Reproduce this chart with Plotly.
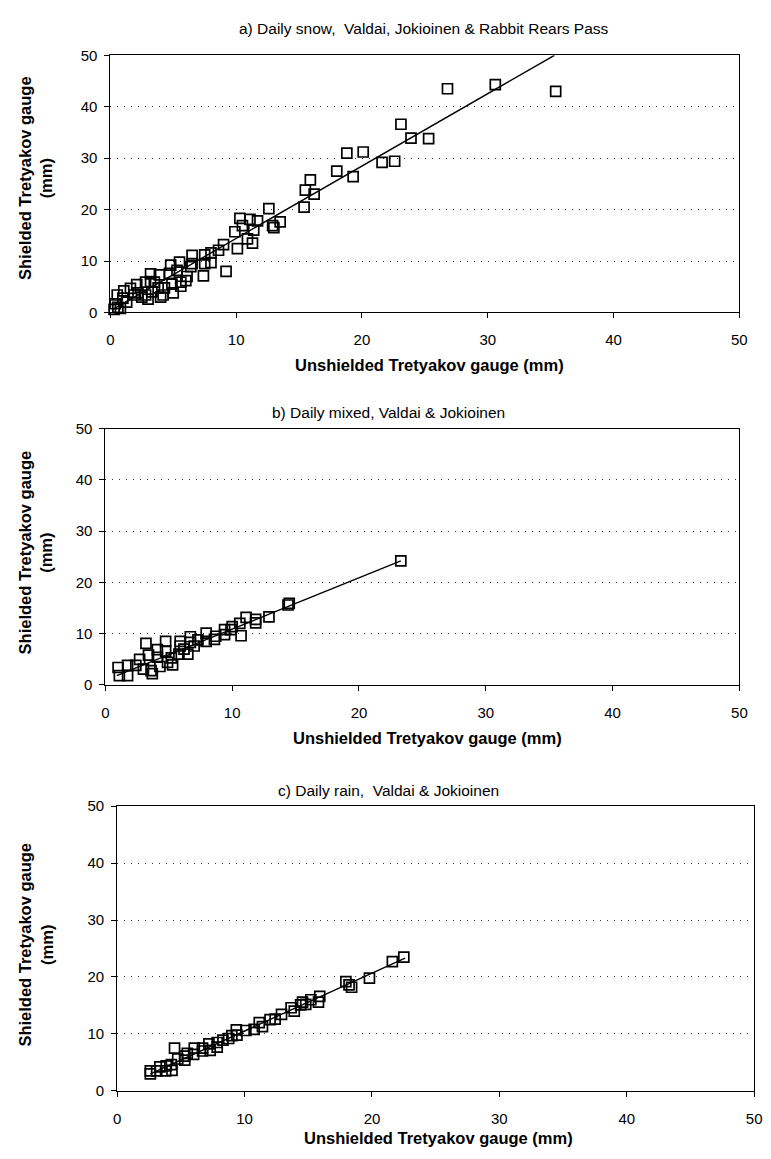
import plotly.graph_objects as go

# ---------------- data ----------------
snow_x = [26.8, 30.6, 35.4, 23.1, 23.9, 25.3, 18.8, 20.1, 21.6, 22.6, 18.0, 19.3, 15.9, 15.5, 16.2, 15.4,
          12.6, 10.3, 11.1, 11.7, 13.5, 12.9, 13.0, 10.5, 9.9, 11.4, 10.9, 11.3, 10.1, 9.0, 8.6, 8.0, 7.5,
          9.2, 7.4, 6.5, 7.5, 6.5, 5.5, 4.8, 6.1, 5.3, 4.7, 3.9, 3.2, 3.2, 2.8, 3.5, 5.6, 5.6, 4.9, 5.0,
          4.2, 3.3, 2.8, 2.1, 1.6, 2.2, 1.07, 0.55, 1.0, 0.4, 0.6, 0.3, 1.9, 3.8, 4.3, 6.4, 8.0,
          2.5, 3.0, 4.0, 1.3, 0.8, 6.0]
snow_y = [43.5, 44.3, 43.0, 36.6, 33.9, 33.8, 31.0, 31.2, 29.2, 29.4, 27.5, 26.4, 25.8, 23.8, 23.0, 20.5,
          20.2, 18.3, 18.1, 17.8, 17.6, 16.9, 16.5, 16.9, 15.7, 16.0, 14.3, 13.5, 12.4, 13.2, 12.1, 11.6, 11.2,
          8.0, 7.1, 11.1, 9.5, 9.5, 9.8, 9.2, 7.0, 8.2, 7.6, 7.3, 7.5, 6.0, 5.9, 5.9, 5.9, 5.1, 5.5, 3.8,
          3.4, 4.0, 3.4, 5.4, 4.7, 3.8, 4.2, 3.4, 2.8, 1.7, 1.0, 0.6, 3.4, 4.8, 4.8, 8.9, 9.7,
          3.0, 2.6, 3.0, 2.0, 0.8, 6.2]
snow_fit_x = [0.2, 35.3]
snow_fit_y = [0.6, 50.0]

mixed_x = [23.3, 14.5, 14.4, 12.9, 11.85, 11.85, 11.1, 10.6, 10.0, 10.7, 9.4, 9.4, 8.7, 7.95, 7.95, 7.3,
           6.7, 6.7, 5.9, 5.9, 6.5, 5.8, 4.75, 4.75, 4.1, 3.2, 3.4, 4.1, 4.9, 2.7, 2.4, 1.75, 1.0, 1.1,
           1.75, 3.0, 3.6, 3.7, 4.3, 5.2, 5.3, 6.2, 7.0, 8.6, 9.9]
mixed_y = [24.2, 15.9, 15.6, 13.3, 12.8, 12.1, 13.2, 12.0, 11.4, 9.6, 10.8, 9.8, 9.5, 10.1, 8.5, 8.8,
           9.4, 8.3, 8.5, 7.6, 6.0, 6.0, 8.5, 6.6, 6.9, 8.1, 5.8, 5.4, 4.4, 5.0, 3.8, 3.8, 3.4, 1.8,
           1.8, 3.1, 2.8, 2.2, 3.6, 5.3, 3.9, 7.0, 7.6, 8.9, 10.8]
mixed_fit_x = [0.9, 23.3]
mixed_fit_y = [1.8, 24.2]

rain_x = [22.5, 21.6, 19.8, 17.95, 18.4, 18.2, 15.9, 15.8, 15.2, 14.55, 14.4, 13.65, 13.9, 12.9, 12.0,
          11.15, 11.4, 10.75, 10.1, 9.35, 9.4, 8.75, 8.3, 7.85, 7.85, 7.2, 6.7, 6.7, 6.05, 6.0, 5.3, 5.3,
          4.5, 4.75, 4.25, 3.85, 3.35, 3.1, 2.6, 2.6, 4.3, 3.8, 5.5, 7.3, 9.0, 12.4, 14.8]
rain_y = [23.5, 22.7, 19.8, 19.2, 18.2, 18.6, 16.6, 15.6, 16.0, 15.6, 15.1, 14.6, 14.0, 13.45, 12.5,
          12.0, 11.3, 10.8, 10.6, 10.7, 9.8, 9.2, 8.9, 8.5, 7.7, 8.25, 7.5, 7.0, 7.5, 6.4, 6.1, 5.4,
          7.5, 5.6, 4.6, 4.4, 4.2, 3.5, 3.5, 3.0, 3.6, 3.5, 6.6, 7.1, 9.7, 12.6, 15.2]
rain_fit_x = [2.6, 22.6]
rain_fit_y = [3.0, 23.3]

tick_vals = [0, 10, 20, 30, 40, 50]
panel_titles = ["a) Daily snow,  Valdai, Jokioinen & Rabbit Rears Pass",
                "b) Daily mixed, Valdai & Jokioinen",
                "c) Daily rain,  Valdai & Jokioinen"]
x_title = "Unshielded Tretyakov gauge (mm)"
y_title = "Shielded Tretyakov gauge<br>(mm)"

# ---------------- layout geometry (pixels) ----------------
W, H = 771, 1159
FONT = "Liberation Sans, Arial, sans-serif"
# (x0, x1, ytop, ybottom) plot area in pixels
boxes = [(108, 747, 47, 308), (103, 747, 426, 686), (115, 762, 809, 1098)]
title_pos = [(427, 20), (391, 410), (391, 793)]
xtitle_pos = [(432, 361), (430, 740), (441, 1146)]
ytitle_pos = [(32, 172), (32, 552), (32, 950)]

series = [(snow_x, snow_y, snow_fit_x, snow_fit_y),
          (mixed_x, mixed_y, mixed_fit_x, mixed_fit_y),
          (rain_x, rain_y, rain_fit_x, rain_fit_y)]

fig = go.Figure()
annotations = []
for i, ((x0, x1, yt, yb), (sx, sy, fx, fy)) in enumerate(zip(boxes, series)):
    n = "" if i == 0 else str(i + 1)
    xa, ya = "x" + n, "y" + n
    fig.add_trace(go.Scatter(x=fx, y=fy, mode="lines", xaxis=xa, yaxis=ya,
                             line=dict(color="black", width=1.4), showlegend=False))
    fig.add_trace(go.Scatter(x=sx, y=sy, mode="markers", xaxis=xa, yaxis=ya, cliponaxis=False,
                             marker=dict(symbol="square-open", size=10, color="black",
                                         line=dict(color="black", width=1.7)),
                             showlegend=False))
    axis_common = dict(range=[0, 50], tickvals=tick_vals, showline=True, linecolor="black",
                       linewidth=1, mirror=True, ticks="outside", ticklen=5, tickcolor="black",
                       tickfont=dict(family=FONT, size=15, color="black"), zeroline=False)
    fig.layout["xaxis" + n] = dict(axis_common, domain=[x0 / W, x1 / W], anchor=ya,
                                   showgrid=False, ticklabelstandoff=9)
    fig.layout["yaxis" + n] = dict(axis_common, domain=[1 - yb / H, 1 - yt / H], anchor=xa,
                                   showgrid=True, gridcolor="#333", griddash="1px,6px", gridwidth=1,
                                   ticklabelstandoff=4)
    tx, ty = title_pos[i]
    annotations.append(dict(text=panel_titles[i], x=tx / W, y=1 - ty / H, xref="paper", yref="paper",
                            showarrow=False, xanchor="center", yanchor="middle",
                            font=dict(family=FONT, size=15.5, color="black")))
    tx, ty = xtitle_pos[i]
    annotations.append(dict(text="<b>" + x_title + "</b>", x=tx / W, y=1 - ty / H, xref="paper",
                            yref="paper", showarrow=False, xanchor="center", yanchor="middle",
                            font=dict(family=FONT, size=16.5, color="black")))
    tx, ty = ytitle_pos[i]
    annotations.append(dict(text="<b>" + y_title + "</b>", x=tx / W, y=1 - ty / H, xref="paper",
                            yref="paper", showarrow=False, xanchor="center", yanchor="middle",
                            textangle=-90, font=dict(family=FONT, size=16.5, color="black")))

fig.update_layout(width=W, height=H, margin=dict(l=0, r=0, t=0, b=0),
                  plot_bgcolor="white", paper_bgcolor="white", annotations=annotations)
fig.write_html("out.html")
